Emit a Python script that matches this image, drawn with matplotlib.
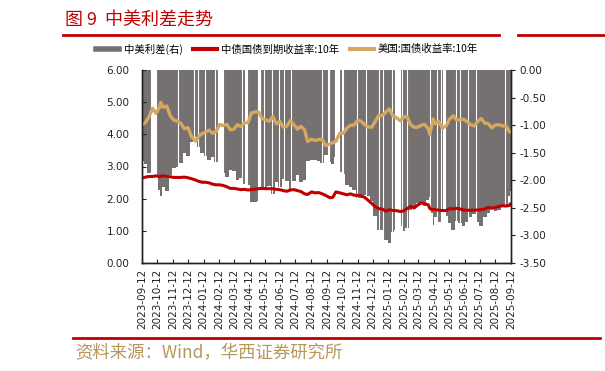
import numpy as np
import pandas as pd
import matplotlib
matplotlib.use("Agg")
import matplotlib.pyplot as plt
from matplotlib.lines import Line2D

plt.rcParams["font.family"] = ["Noto Sans CJK SC", "DejaVu Sans"]

RED = "#C00000"
TAN = "#D4A762"
GRAY = "#767171"

# weekly readings
dates = [
    "2023-09-12", "2023-09-19", "2023-09-26", "2023-10-03", "2023-10-10", "2023-10-17",
    "2023-10-19", "2023-10-24", "2023-10-31", "2023-11-07", "2023-11-14", "2023-11-21",
    "2023-11-28", "2023-12-05", "2023-12-12", "2023-12-19", "2023-12-27", "2024-01-02",
    "2024-01-09", "2024-01-16", "2024-01-23", "2024-01-30", "2024-02-06", "2024-02-13",
    "2024-02-20", "2024-02-27", "2024-03-05", "2024-03-12", "2024-03-19", "2024-03-26",
    "2024-04-02", "2024-04-09", "2024-04-16", "2024-04-25", "2024-04-30", "2024-05-07",
    "2024-05-14", "2024-05-21", "2024-05-28", "2024-06-04", "2024-06-11", "2024-06-18",
    "2024-06-25", "2024-07-02", "2024-07-09", "2024-07-16", "2024-07-23", "2024-07-30",
    "2024-08-05", "2024-08-13", "2024-08-20", "2024-08-27", "2024-09-03", "2024-09-10",
    "2024-09-18", "2024-09-24", "2024-09-30", "2024-10-08", "2024-10-15", "2024-10-22",
    "2024-10-29", "2024-11-05", "2024-11-12", "2024-11-19", "2024-11-26", "2024-12-03",
    "2024-12-10", "2024-12-17", "2024-12-24", "2024-12-31", "2025-01-07", "2025-01-14",
    "2025-01-21", "2025-01-27", "2025-02-05", "2025-02-11", "2025-02-18", "2025-02-25",
    "2025-03-04", "2025-03-11", "2025-03-18", "2025-03-25", "2025-04-01", "2025-04-04",
    "2025-04-08", "2025-04-11", "2025-04-15", "2025-04-22", "2025-04-29", "2025-05-07",
    "2025-05-13", "2025-05-21", "2025-05-27", "2025-06-03", "2025-06-10", "2025-06-17",
    "2025-06-24", "2025-07-01", "2025-07-08", "2025-07-15", "2025-07-22", "2025-07-29",
    "2025-08-05", "2025-08-12", "2025-08-19", "2025-08-26", "2025-09-02", "2025-09-09",
    "2025-09-12",
]

cn_10y = [
    2.64, 2.67, 2.69, 2.69, 2.71, 2.68, 2.70, 2.71, 2.69, 2.68, 2.66, 2.66,
    2.66, 2.67, 2.65, 2.62, 2.58, 2.54, 2.51, 2.51, 2.49, 2.45, 2.43, 2.43,
    2.41, 2.37, 2.32, 2.32, 2.30, 2.28, 2.29, 2.27, 2.28, 2.30, 2.31, 2.32,
    2.31, 2.31, 2.31, 2.29, 2.28, 2.25, 2.23, 2.27, 2.28, 2.25, 2.22, 2.15,
    2.13, 2.21, 2.18, 2.19, 2.15, 2.10, 2.03, 2.04, 2.21, 2.18, 2.15, 2.12,
    2.15, 2.11, 2.10, 2.09, 2.04, 1.95, 1.85, 1.75, 1.69, 1.68, 1.61, 1.66,
    1.63, 1.63, 1.60, 1.62, 1.69, 1.76, 1.71, 1.80, 1.87, 1.84, 1.81, 1.70,
    1.66, 1.67, 1.66, 1.64, 1.63, 1.63, 1.69, 1.68, 1.70, 1.68, 1.65, 1.64,
    1.64, 1.64, 1.65, 1.66, 1.68, 1.73, 1.70, 1.73, 1.76, 1.78, 1.77, 1.79,
    1.87,
]

us_10y = [
    4.29, 4.37, 4.55, 4.81, 4.65, 4.85, 4.99, 4.84, 4.88, 4.58, 4.44, 4.41,
    4.34, 4.17, 4.21, 3.93, 3.79, 3.94, 4.02, 4.07, 4.13, 4.03, 4.09, 4.31,
    4.27, 4.31, 4.14, 4.16, 4.30, 4.24, 4.36, 4.36, 4.67, 4.70, 4.69, 4.49,
    4.45, 4.41, 4.55, 4.33, 4.40, 4.22, 4.25, 4.43, 4.30, 4.16, 4.25, 4.14,
    3.78, 3.85, 3.81, 3.84, 3.84, 3.65, 3.70, 3.74, 3.78, 4.03, 4.03, 4.20,
    4.28, 4.29, 4.43, 4.41, 4.30, 4.23, 4.22, 4.40, 4.59, 4.58, 4.69, 4.79,
    4.57, 4.53, 4.42, 4.54, 4.55, 4.30, 4.22, 4.22, 4.28, 4.31, 4.17, 4.01,
    4.26, 4.48, 4.33, 4.40, 4.19, 4.27, 4.47, 4.58, 4.44, 4.46, 4.47, 4.39,
    4.30, 4.26, 4.40, 4.49, 4.35, 4.33, 4.20, 4.29, 4.30, 4.26, 4.26, 4.08,
    4.06,
]

spread = [
    -1.65, -1.70, -1.86, -2.12, -1.94, -2.17, -2.29, -2.13, -2.19, -1.90, -1.78, -1.75,
    -1.68, -1.50, -1.56, -1.31, -1.21, -1.40, -1.51, -1.56, -1.64, -1.58, -1.66, -1.88,
    -1.86, -1.94, -1.82, -1.84, -2.00, -1.96, -2.07, -2.09, -2.39, -2.40, -2.38, -2.17,
    -2.14, -2.10, -2.24, -2.04, -2.12, -1.97, -2.02, -2.16, -2.02, -1.91, -2.03, -1.99,
    -1.65, -1.64, -1.63, -1.65, -1.69, -1.55, -1.67, -1.70, -1.57, -1.85, -1.88, -2.08,
    -2.13, -2.18, -2.33, -2.32, -2.26, -2.28, -2.37, -2.65, -2.90, -2.90, -3.08, -3.13,
    -2.94, -2.90, -2.82, -2.92, -2.86, -2.54, -2.51, -2.42, -2.41, -2.47, -2.36, -2.31,
    -2.60, -2.81, -2.67, -2.76, -2.56, -2.64, -2.78, -2.90, -2.74, -2.78, -2.82, -2.75,
    -2.66, -2.62, -2.75, -2.83, -2.67, -2.60, -2.50, -2.56, -2.54, -2.48, -2.49, -2.29,
    -2.19,
]

# days with no spread value (one of the two markets closed / CN make-up days)
gap_dates = [
    "2023-09-29", "2023-10-02", "2023-10-03", "2023-10-04", "2023-10-05", "2023-10-06",
    "2023-10-07", "2023-10-08", "2023-10-09", "2023-11-23", "2023-12-25",
    "2024-01-01", "2024-01-15", "2024-02-04", "2024-02-09", "2024-02-12", "2024-02-13",
    "2024-02-14", "2024-02-15", "2024-02-16", "2024-02-18", "2024-02-19", "2024-03-29",
    "2024-04-04", "2024-04-05", "2024-04-07", "2024-04-28", "2024-05-01", "2024-05-02",
    "2024-05-03", "2024-05-11", "2024-05-27", "2024-06-10", "2024-06-19", "2024-07-04",
    "2024-09-02", "2024-09-14", "2024-09-16", "2024-09-17", "2024-09-29", "2024-10-01",
    "2024-10-02", "2024-10-03", "2024-10-04", "2024-10-07", "2024-10-12", "2024-10-14",
    "2024-11-11", "2024-11-28", "2024-12-25", "2025-01-01", "2025-01-20", "2025-01-26",
    "2025-01-28", "2025-01-29", "2025-01-30", "2025-01-31", "2025-02-03", "2025-02-04",
    "2025-02-08", "2025-02-17", "2025-04-04", "2025-04-18", "2025-04-27", "2025-05-01",
    "2025-05-02", "2025-05-05", "2025-05-26", "2025-06-02", "2025-06-19", "2025-07-04",
    "2025-09-01",
]

labels = ["中美利差(右)", "中债国债到期收益率:10年", "美国:国债收益率:10年"]


def main():
    d = pd.to_datetime(dates)
    gaps = pd.to_datetime(gap_dates)

    fig = plt.figure(figsize=(6.05, 3.71), dpi=100)
    ax = fig.add_axes([142 / 605, 1 - 263 / 371, 369 / 605, 193 / 371])
    ax2 = ax.twinx()
    ax.set_zorder(ax2.get_zorder() + 1)
    ax.patch.set_visible(False)

    # spread bars hanging from 0 on the right axis
    ax2.fill_between(d, spread, 0, step="mid", color=GRAY, lw=0, zorder=1)
    for g in gaps:
        ax2.axvline(g, color="white", lw=0.8, zorder=1.5)

    ax.plot(d, cn_10y, color=RED, lw=2.2, solid_capstyle="butt")
    ax.plot(d, us_10y, color=TAN, lw=2.4, solid_capstyle="butt")

    ax.set_xlim(d[0], d[-1])
    ax.set_ylim(0, 6)
    l_ticks = np.arange(0, 6.01, 1)
    ax.set_yticks(l_ticks)
    ax.set_yticklabels([f"{v:.2f}" for v in l_ticks], family="DejaVu Sans")
    ax2.set_ylim(-3.5, 0)
    r_ticks = np.arange(-3.5, 0.01, 0.5)
    ax2.set_yticks(r_ticks)
    ax2.set_yticklabels([f"{v:.2f}".replace("-0.00", "0.00") for v in r_ticks],
                        family="DejaVu Sans")

    xt = pd.date_range(d[0], d[-1], freq=pd.DateOffset(months=1))
    ax.set_xticks(xt)
    ax.set_xticklabels([t.strftime("%Y-%m-%d") for t in xt], rotation=90,
                       family="DejaVu Sans")

    for a in (ax, ax2):
        a.spines["top"].set_visible(False)
        for s in a.spines.values():
            s.set_color("#222222")
            s.set_linewidth(1.0)
    ax.tick_params(axis="y", direction="in", length=3, width=0.8,
                   labelsize=7.5, pad=9, colors="#222222")
    ax.tick_params(axis="x", direction="in", length=3, width=0.8,
                   labelsize=7.5, pad=4, colors="#222222")
    ax2.tick_params(axis="y", direction="out", length=3, width=0.8,
                    labelsize=7.5, pad=3, colors="#222222")

    handles = [Line2D([], [], color=GRAY, lw=4),
               Line2D([], [], color=RED, lw=3),
               Line2D([], [], color=TAN, lw=3)]
    fig.legend(handles, labels, loc="center", bbox_to_anchor=(0.474, 0.868),
               ncol=3, frameon=False, fontsize=7.5, handlelength=2.3,
               columnspacing=1.0, handletextpad=0.4)

    fig.text(65 / 605, 1 - 20 / 371, "图 9  中美利差走势", color=RED,
             fontsize=13, va="center")
    fig.add_artist(Line2D([63 / 605, 499 / 605], [1 - 35 / 371] * 2,
                          color=RED, lw=2))
    fig.add_artist(Line2D([518 / 605, 1.0], [1 - 35 / 371] * 2,
                          color=RED, lw=2))
    fig.add_artist(Line2D([73 / 605, 600 / 605], [1 - 338 / 371] * 2,
                          color=RED, lw=2))
    fig.text(75 / 605, 1 - 353 / 371, "资料来源：Wind，华西证券研究所",
             color="#B8955A", fontsize=12.5, va="center")

    fig.savefig("out.png", dpi=100)


if __name__ == "__main__":
    main()
